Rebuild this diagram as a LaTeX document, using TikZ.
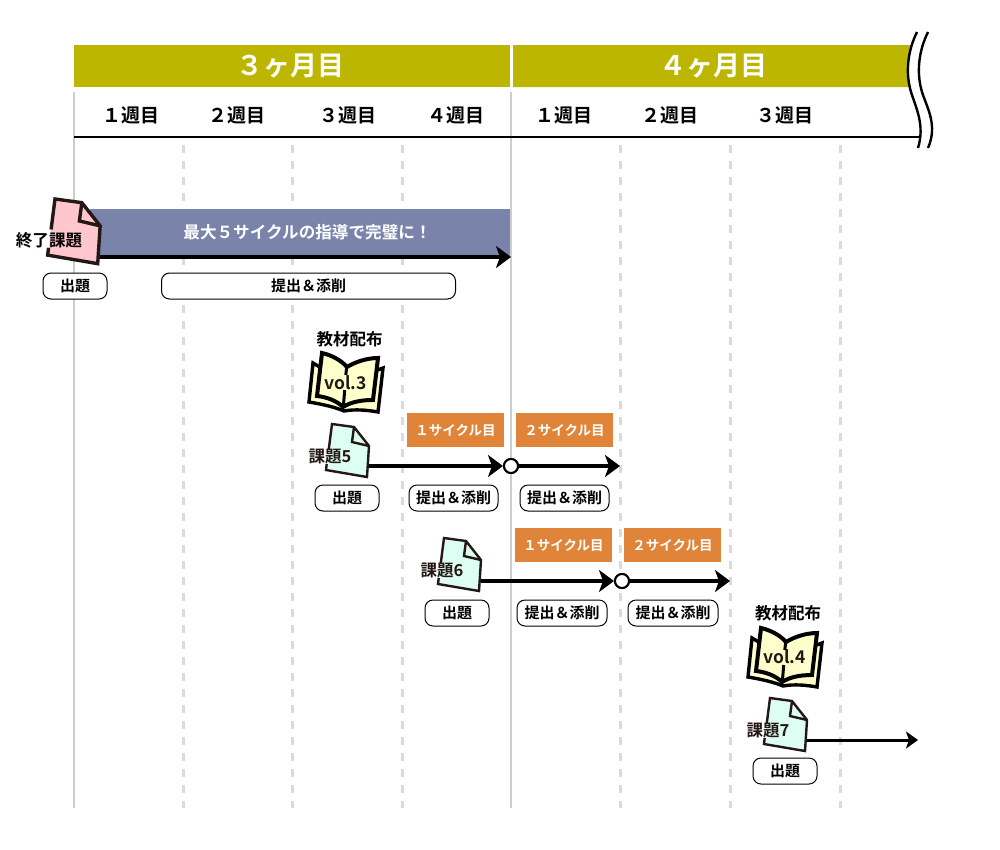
\documentclass[tikz,border=0pt]{standalone}
\usepackage{fontspec}
\setmainfont{Noto Sans CJK JP}[BoldFont={Noto Sans CJK JP Bold}]
\usetikzlibrary{arrows.meta}
\definecolor{bandolive}{HTML}{BDB600}
\definecolor{bandblue}{HTML}{7A84AB}
\definecolor{tagorange}{HTML}{E0843A}
\definecolor{gridgrey}{HTML}{CDCDCD}
\definecolor{dashgrey}{HTML}{DADADA}
\definecolor{inkdark}{HTML}{231815}
\definecolor{docpink}{HTML}{FFC6CE}
\definecolor{docmint}{HTML}{DDFFF3}
\definecolor{bookyellow}{HTML}{FFFFCC}
\tikzset{
 x=1pt,y=-1pt,
 band/.style={fill=bandolive,draw=none},
 monthlabel/.style={font=\bfseries\fontsize{27}{27}\selectfont,text=white,inner sep=0pt},
 weeklabel/.style={font=\bfseries\fontsize{19}{19}\selectfont,inner sep=0pt},
 solidgrid/.style={gridgrey,line width=2.6pt},
 dashgrid/.style={dashgrey,line width=3pt,dash pattern=on 8pt off 8pt},
 pill/.style={draw=black,line width=1pt,fill=white,rounded corners=8pt,inner sep=0pt,minimum height=26pt,font=\bfseries\fontsize{15}{15}\selectfont},
 tag/.style={fill=tagorange,inner sep=0pt,minimum width=97pt,minimum height=34pt,text=white,font=\bfseries\fontsize{13.5}{13.5}\selectfont},
 tlabel/.style={inner sep=0pt,font=\bfseries\fontsize{16.5}{16.5}\selectfont},
 vollabel/.style={inner sep=0pt,font=\bfseries\fontsize{17.5}{17.5}\selectfont,text=inkdark},
 flow/.style={black,line width=3.6pt,-{Stealth[length=15pt,width=22pt,inset=4pt]}},
 hub/.style={circle,draw=black,fill=white,line width=2pt,inner sep=0pt,minimum size=14pt},
 pics/docicon/.style args={#1/#2/#3}{code={
  \begin{scope}[scale=#1]
   \fill[#2] (0,0) -- (22,3) -- (37,22) -- (35,53) -- (-6,46) -- cycle;
   \draw[draw=inkdark,line width=#3,line join=miter]
     (-3.2,25) -- (0,0) -- (22,3) -- (37,22) -- (35,53) -- (-6,46) -- (-5.3,40);
   \draw[draw=inkdark,line width=#3,line join=miter] (22,3) -- (20,18) -- (37,22);
  \end{scope}
 }},
 pics/bookicon/.style={code={
   \draw[fill=bookyellow,draw=black,line width=3.4pt,line join=miter]
     (-32,-19) -- (-36,20) .. controls (-24,22) and (-10,25) .. (-1,29)
     .. controls (10,27) and (22,28) .. (33,30) -- (38,-14) -- (0,0) -- cycle;
   \draw[fill=bookyellow,draw=black,line width=4pt,line join=miter]
     (-23,-29) .. controls (-14,-27) and (-4,-22) .. (2,-15)
     .. controls (10,-20) and (22,-24) .. (33,-24) -- (28,18)
     .. controls (16,18) and (6,20) .. (-2,25)
     .. controls (-8,19) and (-18,15) .. (-28,14) -- cycle;
   \draw[draw=black,line width=3pt] (1.7,-15) -- (0.8,-7);
   \draw[draw=black,line width=3pt] (-0.3,8) -- (-1.7,25);
 }}
}
\begin{document}
\begin{tikzpicture}
\useasboundingbox (0,0) rectangle (1000,849);
\fill[white] (0,0) rectangle (1000,849);

% grid
\foreach \gx in {183,292,402,620,730,840}{\draw[dashgrid] (\gx,145) -- (\gx,808);}
\draw[solidgrid] (74,92) -- (74,808);
\draw[solidgrid] (511,92) -- (511,808);

% month bands
\fill[band] (74,45) rectangle (510,87);
\fill[band] (513,45) -- (912,45) .. controls (908,58) and (907,74) .. (911,87) -- (513,87) -- cycle;
\node[monthlabel] (m3) at (290.5,66) {３ヶ月目};
\node[monthlabel] (m4) at (713.5,66) {４ヶ月目};

% weeks
\node[weeklabel] (w1) at (130.5,115) {１週目};
\node[weeklabel] (w2) at (236.5,115) {２週目};
\node[weeklabel] (w3) at (347.5,115) {３週目};
\node[weeklabel] (w4) at (455.5,115) {４週目};
\node[weeklabel] (w5) at (563.5,115) {１週目};
\node[weeklabel] (w6) at (669.5,115) {２週目};
\node[weeklabel] (w7) at (784.5,115) {３週目};
\draw[black,line width=2pt] (74,137) -- (921,137);

% break marks
\draw[black,line width=2.4pt] (917,32) .. controls (908,50) and (905,72) .. (911,92) .. controls (916,108) and (925,125) .. (918,148);
\draw[black,line width=2.4pt] (928,32) .. controls (919,50) and (916,72) .. (922,92) .. controls (927,108) and (938,125) .. (928,148);

% first block
\fill[bandblue] (90,209) rectangle (510,257);
\node[inner sep=0pt,text=white,font=\bfseries\fontsize{16.6}{16.6}\selectfont] (title) at (307.5,232) {最大５サイクルの指導で完璧に！};
\coordinate (d1) at (97,257);
\coordinate (e1) at (511,257);
\draw[flow] (d1) -- (e1);
\pic at (55,199) {docicon={1.22/docpink/3.4pt}};
\node[tlabel] (endtask) at (49,240) {終了課題};
\node[pill,minimum width=64pt] (p1) at (75,286) {出題};
\node[pill,minimum width=294pt] (p2) at (308.5,286) {提出＆添削};

% vol.3
\node[tlabel] (mat3) at (349.5,339) {教材配布};
\pic at (345,382) {bookicon};
\node[vollabel] (v3) at (345.5,383) {vol.3};

% task 5
\coordinate (d5) at (369,466);
\node[hub] (h5) at (511,466) {};
\coordinate (e5) at (620,466);
\draw[flow] (d5) -- (h5.west);
\draw[flow] (h5.east) -- (e5);
\node[hub] at (h5) {};
\pic at (332,424) {docicon={1/docmint/2.4pt}};
\node[tlabel,text=inkdark] (t5) at (330,457) {課題5};
\node[pill,minimum width=64pt] (p5a) at (347,498) {出題};
\node[pill,minimum width=89pt] (p5b) at (453.5,498) {提出＆添削};
\node[pill,minimum width=89pt] (p5c) at (564.5,498) {提出＆添削};
\node[tag] (t5a) at (455.5,430) {１サイクル目};
\node[tag] (t5b) at (564.5,430) {２サイクル目};

% task 6
\coordinate (d6) at (481,581);
\node[hub] (h6) at (622,581) {};
\coordinate (e6) at (730,581);
\draw[flow] (d6) -- (h6.west);
\draw[flow] (h6.east) -- (e6);
\node[hub] at (h6) {};
\pic at (444,538) {docicon={1/docmint/2.4pt}};
\node[tlabel,text=inkdark] (t6) at (442,571) {課題6};
\node[pill,minimum width=64pt] (p6a) at (457,613) {出題};
\node[pill,minimum width=90pt] (p6b) at (562,613) {提出＆添削};
\node[pill,minimum width=90pt] (p6c) at (673,613) {提出＆添削};
\node[tag] (t6a) at (563.5,545) {１サイクル目};
\node[tag] (t6b) at (672.5,545) {２サイクル目};

% vol.4
\node[tlabel] (mat4) at (788,613) {教材配布};
\pic at (784,657) {bookicon};
\node[vollabel] (v4) at (784.5,657) {vol.4};

% task 7
\coordinate (d7) at (806,740);
\coordinate (e7) at (918,740);
\draw[black,line width=3pt,-{Stealth[length=12pt,width=17pt,inset=3pt]}] (d7) -- (e7);
\pic at (770,698) {docicon={1/docmint/2.4pt}};
\node[tlabel,text=inkdark] (t7) at (768,731) {課題7};
\node[pill,minimum width=64pt] (p7) at (785,771) {出題};
\end{tikzpicture}
\end{document}
